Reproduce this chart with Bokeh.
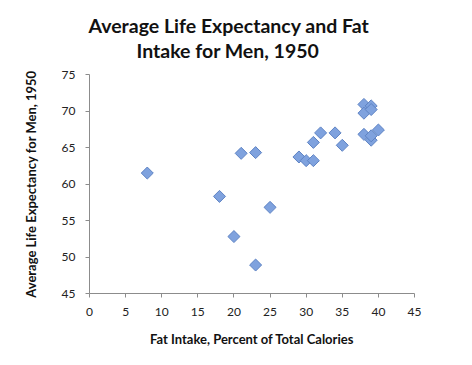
import numpy as np
from bokeh.plotting import figure
from bokeh.models import Range1d, FixedTicker, Title
from bokeh.embed import file_html
from bokeh.resources import INLINE

fat_intake = [8, 18, 20, 21, 23, 23, 25, 29, 30, 31, 31, 32, 34, 35, 38, 38, 38, 39, 39, 39, 39, 40]
life_expectancy = [61.5, 58.3, 52.8, 64.2, 64.3, 48.9, 56.8, 63.7, 63.2, 63.2, 65.7, 67.0, 67.0, 65.3,
                   70.9, 69.7, 66.8, 70.7, 70.2, 66.0, 66.6, 67.4]
x_ticks = [0, 5, 10, 15, 20, 25, 30, 35, 40, 45]
y_ticks = [45, 50, 55, 60, 65, 70, 75]
title_lines = ["Average Life Expectancy and Fat", "Intake for Men, 1950"]

FONT = "Lato"

p = figure(width=456, height=349, output_backend="svg", toolbar_location=None,
           x_range=Range1d(0, 45), y_range=Range1d(45, 75),
           min_border_left=89, min_border_right=42, min_border_top=74, min_border_bottom=52)
p.outline_line_color = None
p.grid.grid_line_color = None
p.background_fill_color = "white"
p.border_fill_color = "white"

for ax in (p.xaxis[0], p.yaxis[0]):
    ax.axis_line_color = "#8c8c8c"
    ax.major_tick_line_color = "#8c8c8c"
    ax.minor_tick_line_color = None
    ax.major_tick_in = 0
    ax.major_tick_out = 4
    ax.major_label_text_font = FONT
    ax.major_label_text_font_size = "12px"
    ax.major_label_text_color = "#222222"
    ax.axis_label_text_font = FONT
    ax.axis_label_text_font_style = "bold"
    ax.axis_label_text_font_size = "13px"
    ax.axis_label_text_color = "#111111"

p.xaxis.ticker = FixedTicker(ticks=x_ticks)
p.yaxis.ticker = FixedTicker(ticks=y_ticks)
p.xaxis.axis_label = "Fat Intake, Percent of Total Calories"
p.yaxis.axis_label = "Average Life Expectancy for Men, 1950"
p.xaxis.major_label_standoff = 10
p.xaxis.axis_label_standoff = 12
p.yaxis.major_label_standoff = 10
p.yaxis.axis_label_standoff = 20

p.scatter(fat_intake, life_expectancy, marker="square", angle=np.pi / 4, size=8.5,
          fill_color="#7fa2de", line_color="#5e83c4", line_width=1)

# first title line (farthest from the plot) uses the built-in title
p.title.text = title_lines[0]
p.title.align = "left"
p.title.offset = -1
p.title.text_font = FONT
p.title.text_font_style = "bold"
p.title.text_font_size = "19.5px"
p.title.text_color = "#111111"
p.title.standoff = 0

# blank spacer between the plot frame and the title block
p.add_layout(Title(text=" ", text_font_size="1px", standoff=10), "above")

# second title line
p.add_layout(Title(text=title_lines[1], align="left", offset=47, text_font=FONT,
                   text_font_style="bold", text_font_size="19.5px", text_color="#111111",
                   standoff=0), "above")

open("out.html", "w").write(file_html(p, INLINE))
